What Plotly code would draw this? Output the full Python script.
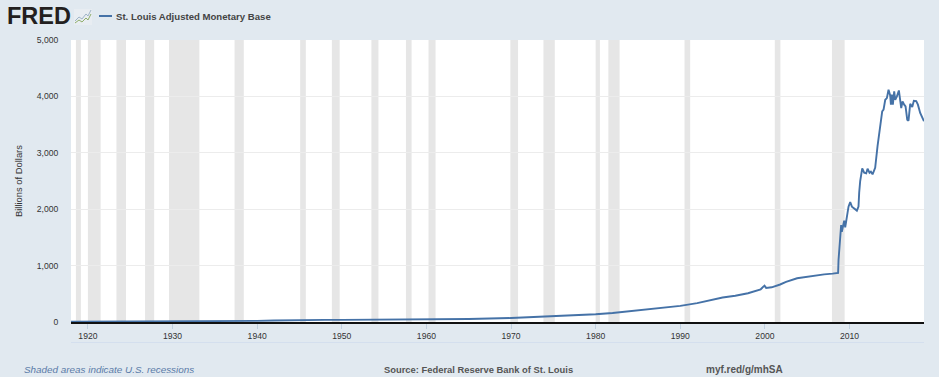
import plotly.graph_objects as go

W, H = 939, 377
L, R, T, B = 71, 15, 40, 55

years = [1918.0, 1920, 1925, 1930, 1933, 1936, 1938, 1940, 1942, 1944, 1945.5, 1948, 1950, 1955, 1960, 1965,
         1970, 1975, 1978, 1980, 1982, 1985, 1988, 1990, 1992, 1993.5, 1995, 1996.5, 1998, 1999.5, 1999.95,
         2000.15, 2000.8, 2001.8, 2002.5, 2003.8, 2005, 2006, 2007, 2008, 2008.65,
         2008.70, 2008.85, 2009.01, 2009.09, 2009.37, 2009.49, 2009.88, 2010.08, 2010.28, 2010.87,
         2011.06, 2011.14, 2011.26, 2011.50, 2011.73, 2011.97, 2012.13, 2012.36, 2012.52, 2012.72,
         2013.03, 2013.31, 2013.62, 2013.86, 2014.02, 2014.22, 2014.41, 2014.61, 2014.81, 2014.89,
         2015.00, 2015.12, 2015.28, 2015.40, 2015.60, 2015.83, 2016.11, 2016.26, 2016.46, 2016.62,
         2016.82, 2016.97, 2017.17, 2017.41, 2017.60, 2017.88, 2018.08, 2018.35, 2018.79]
base = [6, 7, 7, 7, 8, 11, 14, 20, 26, 33, 38, 38, 38, 41, 44, 52,
        70, 100, 122, 138, 160, 210, 260, 285, 335, 390, 435, 465, 510, 580, 645,
        605, 615, 665, 710, 775, 805, 825, 845, 858, 870,
        1100, 1500, 1720, 1600, 1796, 1680, 2045, 2125, 2045, 1975,
        2045, 2294, 2500, 2723, 2647, 2635, 2718, 2647, 2665, 2618,
        2735, 3118, 3530, 3735, 3765, 3941, 3970, 4118, 4012, 3853,
        4030, 3853, 4088, 3940, 4000, 4106, 3794, 3912, 3853, 3823,
        3588, 3570, 3870, 3812, 3923, 3918, 3853, 3706, 3560]

rec_start = [1918.58, 1920.0, 1923.37, 1926.75, 1929.58, 1937.33, 1945.08, 1948.83, 1953.5, 1957.58, 1960.25,
             1969.92, 1973.83, 1980.0, 1981.5, 1990.5, 2001.17, 2007.92]
rec_end = [1919.17, 1921.5, 1924.5, 1927.83, 1933.17, 1938.42, 1945.75, 1949.75, 1954.33, 1958.25, 1961.08,
           1970.83, 1975.17, 1980.5, 1982.83, 1991.17, 2001.83, 2009.42]

x_ticks = list(range(1920, 2011, 10))
y_ticks = [0, 1000, 2000, 3000, 4000, 5000]
y_labels = ["0", "1,000", "2,000", "3,000", "4,000", "5,000"]

BG = "#e1e9f0"
LINE = "#4572a7"
SANS = "Liberation Sans, Arial, sans-serif"


def px(x):
    return (x - L) / (W - L - R)


def py(y):
    return (H - B - y) / (H - T - B)


def note(text, x, y, size, color, font=SANS, anchor="left", angle=0):
    return dict(text=text, x=px(x), y=py(y), xref="paper", yref="paper", showarrow=False,
                xanchor=anchor, yanchor="middle", textangle=angle, borderpad=0, borderwidth=0,
                font=dict(size=size, color=color, family=font))


def path(points, color, width=1):
    d = "M" + " L".join(f"{px(a):.5f},{py(b):.5f}" for a, b in points)
    return dict(type="path", path=d, xref="paper", yref="paper",
                line=dict(color=color, width=width))


shapes = [dict(type="rect", x0=s, x1=e, y0=0, y1=1, xref="x", yref="y domain", layer="below",
               fillcolor="#e6e6e6", line_width=0) for s, e in zip(rec_start, rec_end)]
# legend key, range-selector rule and logo chart glyph
shapes.append(path([(99, 16), (112, 16)], LINE, 2))
shapes.append(path([(71, 342.5), (924, 342.5)], "#d4dfee", 1))
shapes.append(dict(type="rect", x0=px(74), x1=px(92), y0=py(25), y1=py(9), xref="paper", yref="paper",
                   fillcolor="#e8edf2", line_width=0))
shapes.append(path([(75, 21), (79, 17), (82, 19), (86, 14), (88, 16), (91, 10)], "#9fb4c8", 1))
shapes.append(path([(75, 23), (79, 20), (82, 22), (86, 18), (88, 20), (91, 14)], "#8fae6a", 1))

annotations = [
    note("<b>FRED</b>", 7, 16, 23.5, "#231f20", SANS),
    note("<b>St. Louis Adjusted Monetary Base</b>", 116, 16, 9.6, "#444444"),
    note("Billions of Dollars", 18, 181, 9.4, "#333333", SANS, "center", -90),
    note("<i>Shaded areas indicate U.S. recessions</i>", 24, 369, 9.9, "#5b7ba8", SANS),
    note("<b>Source: Federal Reserve Bank of St. Louis</b>", 384, 369, 9.4, "#555555", SANS),
    note("<b>myf.red/g/mhSA</b>", 706, 369, 10, "#555555", SANS),
]

fig = go.Figure(go.Scatter(x=years, y=base, mode="lines", line=dict(color=LINE, width=1.9),
                           hoverinfo="skip", showlegend=False))
fig.update_layout(
    width=W, height=H, margin=dict(l=L, r=R, t=T, b=B, pad=0),
    paper_bgcolor=BG, plot_bgcolor="#ffffff", showlegend=False,
    shapes=shapes, annotations=annotations,
    font=dict(family=SANS, size=8.6, color="#333333"),
)
fig.update_xaxes(range=[1918.0, 2018.8], tickmode="array", tickvals=x_ticks, ticktext=[str(v) for v in x_ticks],
                 showgrid=False, zeroline=False, showline=True, linecolor="#111111", linewidth=2,
                 ticks="outside", ticklen=5, tickwidth=1, tickcolor="#c0d0e0",
                 tickfont=dict(size=8.6, color="#333333"))
fig.update_yaxes(range=[0, 5000], tickmode="array", tickvals=y_ticks, ticktext=y_labels,
                 showgrid=True, gridcolor="#ececec", gridwidth=1, zeroline=False, showline=False,
                 ticks="outside", ticklen=10, tickcolor="rgba(0,0,0,0)",
                 tickfont=dict(size=8.6, color="#333333"))

fig.write_html("out.html", config={"displayModeBar": False},
               post_script="document.body.style.margin='0';document.body.style.overflow='hidden';")
